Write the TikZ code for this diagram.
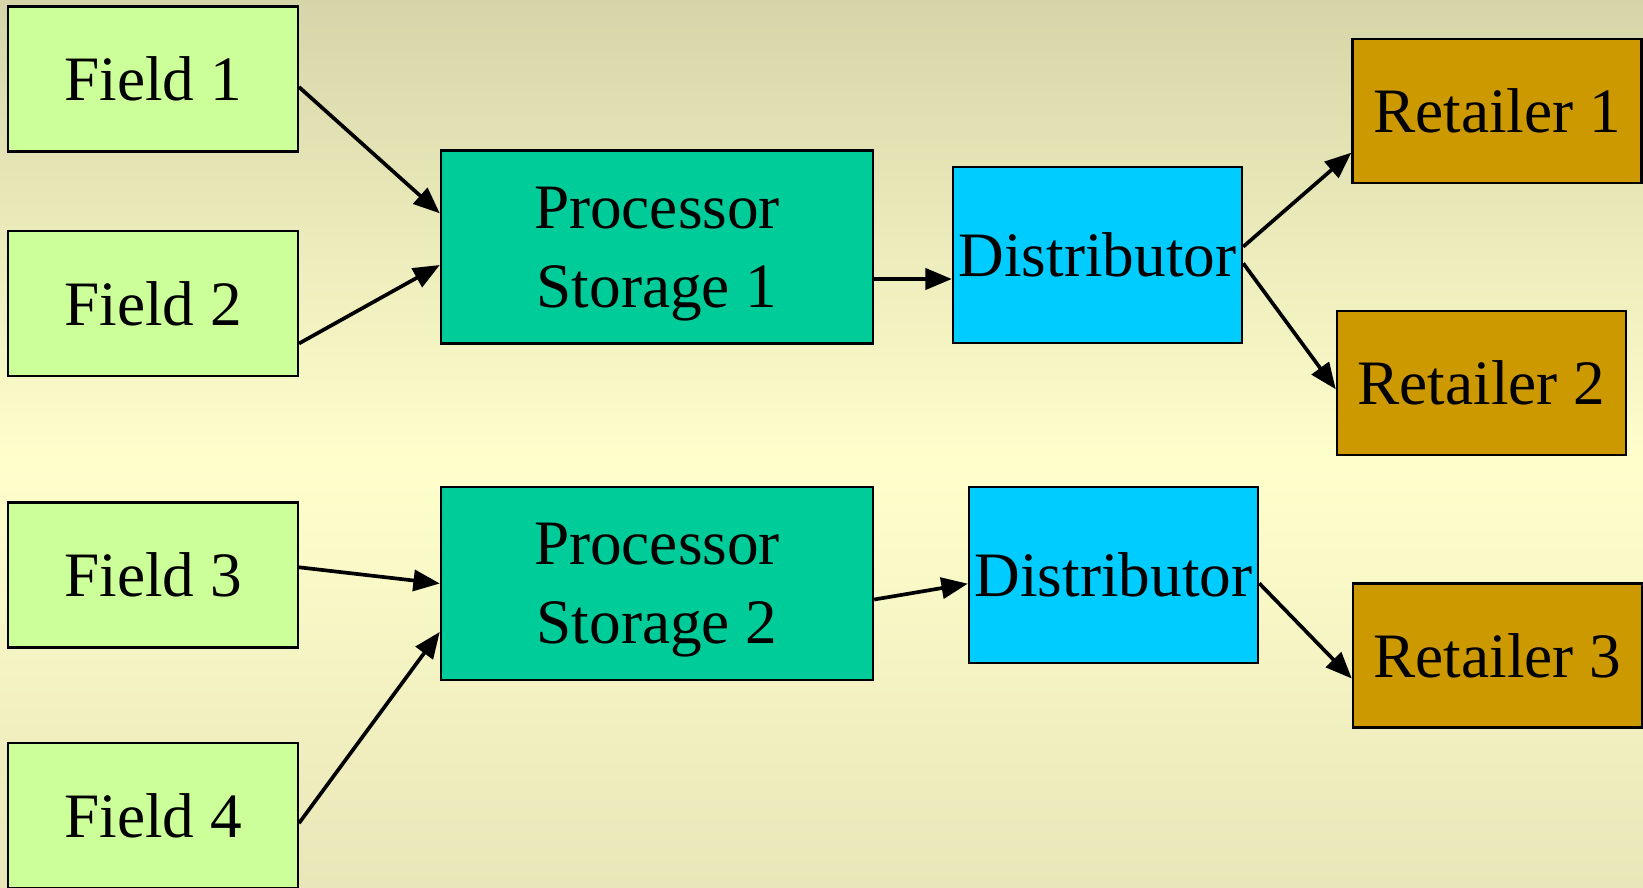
\documentclass[tikz,border=0pt]{standalone}
\usepackage{fontspec}
\setmainfont{Liberation Serif}
\usepackage{tikz}
\usetikzlibrary{arrows.meta}
\usetikzlibrary{positioning}
\tikzset{>={Triangle[length=15pt,width=12pt]}}
\definecolor{bgtop}{HTML}{D5D5A9}
\definecolor{bgmid}{HTML}{FFFFCC}
\definecolor{bgbot}{HTML}{E9E6B9}
\definecolor{fieldgreen}{HTML}{CCFF99}
\definecolor{procgreen}{HTML}{00CC99}
\definecolor{distblue}{HTML}{00CCFF}
\definecolor{retailgold}{HTML}{CC9900}
\tikzset{
  box/.style={draw=black, line width=1.4pt, inner sep=0pt, align=center,
    font=\fontsize{36}{44}\selectfont},
  fieldbox/.style={box, fill=fieldgreen, minimum width=5.79cm, minimum height=2.9cm},
  procbox/.style={box, fill=procgreen, minimum width=8.64cm, minimum height=3.86cm,
    font=\fontsize{36}{45}\selectfont, text depth=-4pt},
  distbox/.style={box, fill=distblue, minimum width=5.78cm, minimum height=3.53cm},
  retailbox/.style={box, fill=retailgold, minimum width=5.78cm, minimum height=2.88cm},
  flow/.style={->, line width=2.1pt}
}

\begin{document}
\begin{tikzpicture}
    % Background, darker at the top and bottom edges.
    \useasboundingbox (0,0) rectangle (32.86,17.74);
    \shade[top color=bgtop, bottom color=bgmid] (0,8.5) rectangle (32.86,17.74);
    \shade[top color=bgmid, bottom color=bgbot] (0,0) rectangle (32.86,8.5);
    % Draw the fields.
    \node[fieldbox] (field1) at (3.06,16.16) {Field 1};
    \node[fieldbox] (field2) at (3.06,11.67) {Field 2};
    \node[fieldbox] (field3) at (3.06,6.24) {Field 3};
    \node[fieldbox] (field4) at (3.06,1.43) {Field 4};
    % Draw the processors, distributors and retailers.
    \node[procbox] (proc1) at (13.14,12.80) {Processor\\Storage 1};
    \node[procbox] (proc2) at (13.14,6.07) {Processor\\Storage 2};
    \node[distbox] (dist1) at (21.95,12.64) {Distributor};
    \node[distbox] (dist2) at (22.27,6.24) {Distributor};
    \node[retailbox] (retail1) at (29.94,15.52) {Retailer 1};
    \node[retailbox] (retail2) at (29.63,10.08) {Retailer 2};
    \node[retailbox] (retail3) at (29.95,4.63) {Retailer 3};
    % Draw the flows between them.
    \draw[flow] ([yshift=-0.16cm]field1.east) -- ([yshift=0.674cm]proc1.west);
    \draw[flow] ([yshift=-0.80cm]field2.east) -- ([yshift=-0.36cm]proc1.west);
    \draw[flow] ([yshift=0.154cm]field3.east) -- (proc2.west);
    \draw[flow] ([yshift=-0.154cm]field4.east) -- ([yshift=-0.968cm]proc2.west);

    \draw[flow] ([yshift=-0.64cm]proc1.east) -- ([yshift=-0.48cm]dist1.west);
    \draw[flow] ([yshift=-0.32cm]proc2.east) -- ([yshift=-0.174cm]dist2.west);

    \draw[flow] ([yshift=0.166cm]dist1.east) -- ([yshift=-0.834cm]retail1.west);
    \draw[flow] ([yshift=-0.166cm]dist1.east) -- ([yshift=-0.126cm]retail2.west);
    \draw[flow] ([yshift=-0.166cm]dist2.east) -- ([yshift=-0.46cm]retail3.west);
  \end{tikzpicture}
\end{document}
